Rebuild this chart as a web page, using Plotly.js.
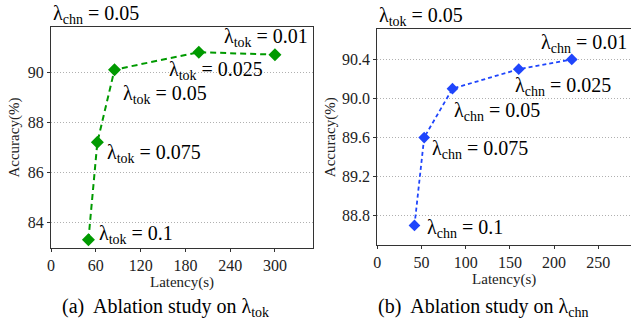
<!DOCTYPE html>
<html><head><meta charset="utf-8">
<script src="https://cdn.plot.ly/plotly-3.0.1.min.js"></script>
<style>
html,body{margin:0;padding:0;background:#fff}
#chart{width:631px;height:323px}
</style>
</head><body><div id="chart"></div>
<script>
// Panel (a): ablation on lambda_tok (lambda_chn = 0.05)
const tokLatency = [50, 62, 85, 198, 300];
const tokAccuracy = [83.3, 87.2, 90.1, 90.8, 90.7];
const tokLabels = ['0.1', '0.075', '0.05', '0.025', '0.01'];
// Panel (b): ablation on lambda_chn (lambda_tok = 0.05)
const chnLatency = [42, 53, 85, 160, 220];
const chnAccuracy = [88.7, 89.6, 90.1, 90.3, 90.4];
const chnLabels = ['0.1', '0.075', '0.05', '0.025', '0.01'];
const xTicksA = [0, 60, 120, 180, 240, 300];
const yTicksA = [84, 86, 88, 90];
const xTicksB = [0, 50, 100, 150, 200, 250];
const yTicksB = [88.8, 89.2, 89.6, 90.0, 90.4];

const FONT = 'Liberation Serif';
const green = '#009a00', blue = '#1f45fc';

const traces = [
  {x: tokLatency, y: tokAccuracy, xaxis: 'x', yaxis: 'y', type: 'scatter', mode: 'lines+markers',
   line: {color: green, dash: '6px,4px', width: 2}, marker: {symbol: 'diamond', size: 10, color: green}},
  {x: chnLatency, y: chnAccuracy, xaxis: 'x2', yaxis: 'y2', type: 'scatter', mode: 'lines+markers',
   line: {color: blue, dash: '4px,3px', width: 1.8}, marker: {symbol: 'diamond', size: 9, color: blue}}
];

// label offsets (pixels) relative to each point
const tokOff = [[9, 5, 'left'], [8, -11, 'left'], [6, -25, 'left'], [-32, -18, 'left'], [35, 17, 'right']];
const chnOff = [[11, -3, 'left'], [6, -12, 'left'], [0, -23, 'left'], [-6, -17, 'left'], [57, 16, 'right']];

function lbl() { return {family: FONT, size: 20, color: '#000'}; }
const ann = [];
tokLatency.forEach((x, i) => ann.push({x: x, y: tokAccuracy[i], xref: 'x', yref: 'y', showarrow: false,
  text: 'λ<sub>tok</sub> = ' + tokLabels[i], xanchor: tokOff[i][2], yanchor: 'middle',
  xshift: tokOff[i][0], yshift: tokOff[i][1], font: lbl()}));
chnLatency.forEach((x, i) => ann.push({x: x, y: chnAccuracy[i], xref: 'x2', yref: 'y2', showarrow: false,
  text: 'λ<sub>chn</sub> = ' + chnLabels[i], xanchor: chnOff[i][2], yanchor: 'middle',
  xshift: chnOff[i][0], yshift: chnOff[i][1], font: lbl()}));

ann.push({xref: 'paper', yref: 'paper', x: 0.081, y: 0.955, xanchor: 'left', yanchor: 'middle', showarrow: false,
  text: 'λ<sub>chn</sub> = 0.05', font: lbl()});
ann.push({xref: 'paper', yref: 'paper', x: 0.597, y: 0.95, xanchor: 'left', yanchor: 'middle', showarrow: false,
  text: 'λ<sub>tok</sub> = 0.05', font: lbl()});
ann.push({xref: 'paper', yref: 'paper', x: 0.262, y: 0.048, xanchor: 'center', yanchor: 'middle', showarrow: false,
  text: '(a)  Ablation study on λ<sub>tok</sub>', font: lbl()});
ann.push({xref: 'paper', yref: 'paper', x: 0.766, y: 0.048, xanchor: 'center', yanchor: 'middle', showarrow: false,
  text: '(b)  Ablation study on λ<sub>chn</sub>', font: lbl()});

function ax(extra) {
  return Object.assign({showline: true, linecolor: '#333', linewidth: 1.2, ticks: 'outside', ticklen: 3, tickwidth: 1,
    tickcolor: '#333', tickfont: {family: FONT, size: 16, color: '#222'}, zeroline: false, fixedrange: true}, extra);
}
function tt() { return {family: FONT, size: 15, color: '#222'}; }

const layout = {
  width: 631, height: 323, margin: {l: 0, r: 0, t: 0, b: 0}, showlegend: false,
  paper_bgcolor: '#fff', plot_bgcolor: '#fff',
  xaxis: ax({domain: [0.081, 0.496], range: [0, 351], tickvals: xTicksA, mirror: true, showgrid: false,
    title: {text: 'Latency(s)', font: tt(), standoff: 0}, anchor: 'y'}),
  yaxis: ax({domain: [0.232, 0.916], range: [82.97, 91.8], tickvals: yTicksA, mirror: true,
    showgrid: true, gridcolor: '#b0b0b0', griddash: '1px,2px', gridwidth: 1,
    title: {text: 'Accuracy(%)', font: tt(), standoff: 4}, anchor: 'x'}),
  xaxis2: ax({domain: [0.598, 1], range: [0, 287], tickvals: xTicksB, mirror: true, showgrid: false,
    title: {text: 'Latency(s)', font: tt(), standoff: 0}, anchor: 'y2'}),
  yaxis2: ax({domain: [0.2415, 0.909], range: [88.5, 90.707], tickvals: yTicksB, tickformat: '.1f',
    mirror: false, showgrid: true, gridcolor: '#b0b0b0', griddash: '1px,2px', gridwidth: 1,
    title: {text: 'Accuracy(%)', font: tt(), standoff: 2}, anchor: 'x2'}),
  annotations: ann
};

Plotly.newPlot('chart', traces, layout, {staticPlot: true, displayModeBar: false});
</script></body></html>
